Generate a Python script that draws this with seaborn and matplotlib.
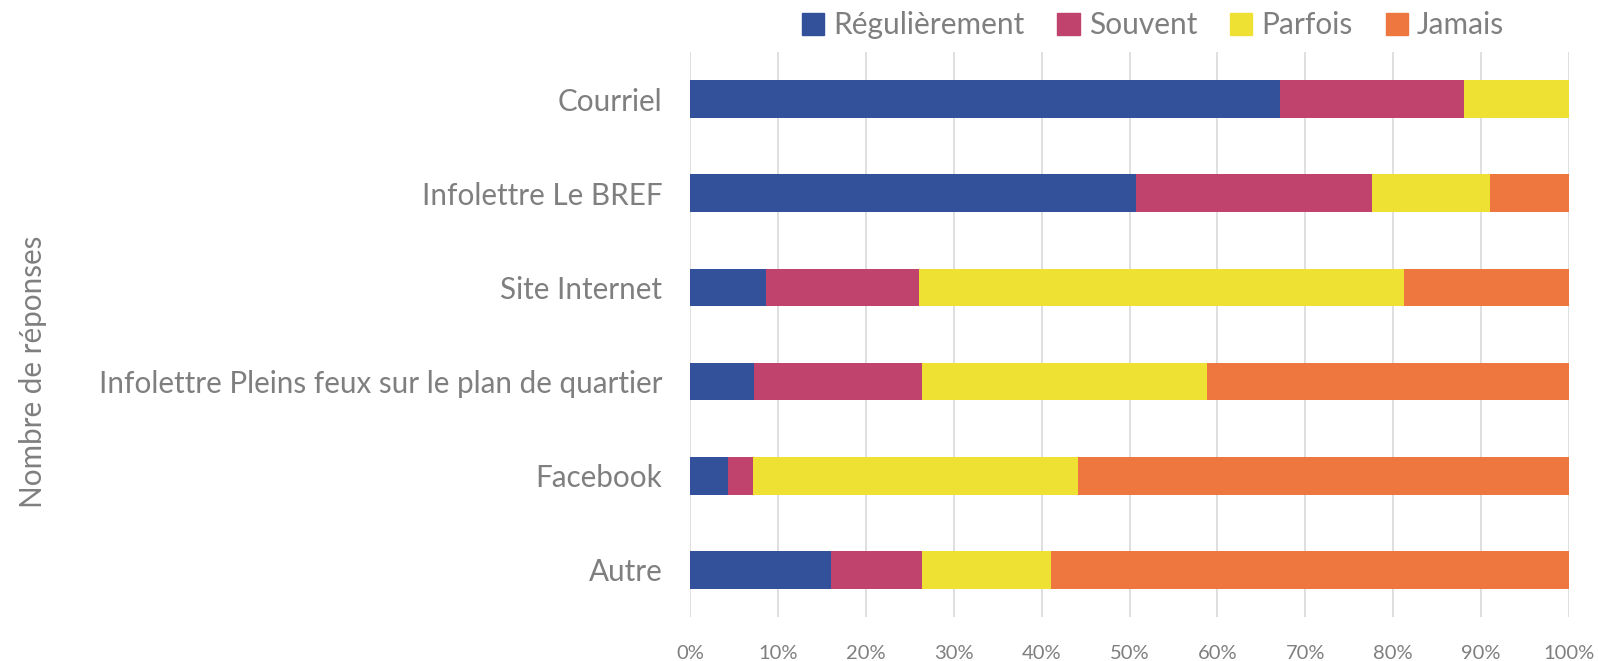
import matplotlib
matplotlib.use("Agg")
import matplotlib.pyplot as plt
import matplotlib.patches as mpatches
from matplotlib.ticker import PercentFormatter
import seaborn as sns
import pandas as pd
import numpy as np

categories = ["Courriel", "Infolettre Le BREF", "Site Internet",
              "Infolettre Pleins feux sur le plan de quartier", "Facebook", "Autre"]
series_names = ["Régulièrement", "Souvent", "Parfois", "Jamais"]
regulierement = [67.1, 50.7, 8.6, 7.3, 4.3, 16.0]
souvent = [21.0, 26.9, 17.4, 19.1, 2.9, 10.4]
parfois = [11.9, 13.4, 55.2, 32.4, 36.9, 14.7]
jamais = [0.0, 9.0, 18.8, 41.2, 55.9, 58.9]
colors = ["#33509A", "#BF436D", "#EEE133", "#EE763F"]
x_ticks = [0, 10, 20, 30, 40, 50, 60, 70, 80, 90, 100]

sns.set_theme(style="white")
plt.rcParams["font.family"] = ["Lato", "DejaVu Sans"]

fig = plt.figure(figsize=(15.98, 6.61), dpi=100)
ax = fig.add_axes([690/1598, 1 - 617/661, (1569-690)/1598, (617-52)/661])

vals = np.array([regulierement, souvent, parfois, jamais]) / 100.0
cum = np.cumsum(vals, axis=0)
for i in range(len(series_names) - 1, -1, -1):
    df = pd.DataFrame({"cat": categories, "val": cum[i]})
    sns.barplot(data=df, x="val", y="cat", orient="h", color=colors[i],
                width=0.4, saturation=1, ax=ax, linewidth=0)

ax.set_xlim(0, 1)
ax.set_ylim(len(categories) - 0.5, -0.5)
ax.set_xticks([t / 100 for t in x_ticks])
ax.xaxis.set_major_formatter(PercentFormatter(1.0, decimals=0))
ax.xaxis.grid(True, color="#D9D9D9", linewidth=1.2)
ax.set_axisbelow(True)
for s in ax.spines.values():
    s.set_visible(False)
ax.tick_params(axis="x", labelsize=14.5, colors="#7F7F7F", length=0, pad=20)
ax.tick_params(axis="y", labelsize=21.3, colors="#7F7F7F", length=0, pad=20)
ax.set_xlabel("")
ax.set_ylabel("")

fig.text(33/1598, 1 - 372/661, "Nombre de réponses", rotation=90,
         ha="center", va="center", fontsize=21.3, color="#7F7F7F")

handles = [mpatches.Patch(color=c, label=n) for c, n in zip(colors, series_names)]
fig.legend(handles=handles, loc="center", ncol=4, frameon=False,
           bbox_to_anchor=(1153/1598, 1 - 25/661), fontsize=21.5,
           labelcolor="#7F7F7F", handlelength=0.75, handleheight=0.75,
           handletextpad=0.3, columnspacing=1.1)

fig.savefig("out.png", dpi=100)
